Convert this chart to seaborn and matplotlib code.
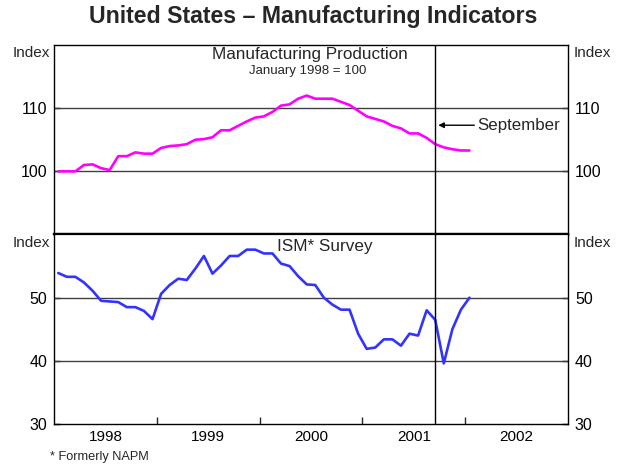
import matplotlib
matplotlib.use("Agg")
import matplotlib.pyplot as plt
import seaborn as sns
import numpy as np
import pandas as pd

# Monthly data, Jan 1998 .. Jan 2002
production = [100.0, 100.0, 100.0, 101.0, 101.1, 100.5, 100.2, 102.4, 102.4, 103.0,
              102.8, 102.8, 103.7, 104.0, 104.1, 104.3, 105.0, 105.1, 105.4, 106.5,
              106.5, 107.2, 107.9, 108.5, 108.7, 109.4, 110.4, 110.6, 111.5, 112.0,
              111.5, 111.5, 111.5, 111.0, 110.5, 109.6, 108.7, 108.3, 107.9, 107.2,
              106.8, 106.0, 106.0, 105.3, 104.3, 103.8, 103.5, 103.3, 103.3]
ism = [53.9, 53.3, 53.3, 52.4, 51.1, 49.5, 49.4, 49.3, 48.5, 48.5,
       47.9, 46.6, 50.6, 52.0, 53.0, 52.8, 54.6, 56.6, 53.8, 55.1,
       56.6, 56.6, 57.6, 57.6, 57.0, 57.0, 55.4, 55.0, 53.4, 52.1,
       52.0, 50.0, 48.9, 48.1, 48.1, 44.3, 41.9, 42.1, 43.4, 43.4,
       42.4, 44.3, 44.0, 48.0, 46.5, 39.6, 45.0, 48.1, 50.0]
start_year = 1998
years = [1998, 1999, 2000, 2001, 2002]
marker_month = 44  # September 2001 (months since Jan 1998)

months = np.arange(len(production))
xpos = start_year + (months + 0.5) / 12.0
df = pd.DataFrame({"x": xpos, "production": production, "ism": ism})

sns.set_theme(style="white")
plt.rcParams["font.family"] = ["Liberation Sans", "DejaVu Sans"]

W, H = 626, 469
fig, (ax1, ax2) = plt.subplots(2, 1, figsize=(W / 100, H / 100), dpi=100, sharex=True)
fig.subplots_adjust(left=54 / W, right=568 / W, top=1 - 45 / H, bottom=1 - 424 / H, hspace=0)
fig.patch.set_facecolor("white")

sns.lineplot(data=df, x="x", y="production", ax=ax1, color="#FF00FF", linewidth=1.9)
sns.lineplot(data=df, x="x", y="ism", ax=ax2, color="#3333FF", linewidth=1.9)

vx = start_year + (marker_month + 0.5) / 12.0
for ax in (ax1, ax2):
    ax.set_xlim(1998, 2003)
    ax.axvline(vx, color="black", linewidth=1.0, zorder=3)
    ax.set_xlabel("")
    ax.set_ylabel("")
    ax.set_facecolor("white")
    for s in ax.spines.values():
        s.set_color("black")
        s.set_linewidth(1.0)
        s.set_visible(True)

ax1.spines["bottom"].set_linewidth(1.6)
ax2.spines["top"].set_linewidth(1.6)

ax1.set_ylim(90, 120)
ax2.set_ylim(30, 60)

for ax, grid in ((ax1, [100, 110]), (ax2, [40, 50])):
    for g in grid:
        ax.axhline(g, color="#404040", linewidth=1.0, zorder=1)

# y ticks
ax1.set_yticks([100, 110])
ax2.set_yticks([30, 40, 50])
for ax in (ax1, ax2):
    ax.tick_params(axis="y", which="major", direction="in", length=4, width=1,
                   left=True, right=True, labelleft=True, labelright=True,
                   labelsize=11.5, pad=5, colors="black")

# x ticks
ax1.tick_params(axis="x", which="both", bottom=False, labelbottom=False)
ax2.set_xticks([1999, 2000, 2001, 2002])
ax2.set_xticks([y + 0.5 for y in years], minor=True)
ax2.set_xticklabels([str(y) for y in years], minor=True)
ax2.tick_params(axis="x", which="major", direction="in", length=5, width=1,
                bottom=True, labelbottom=False)
ax2.tick_params(axis="x", which="minor", length=0, labelsize=11, pad=4, colors="black")

# Index labels
for yy in (53, 243):
    fig.text(50 / W, 1 - yy / H, "Index", ha="right", va="center", fontsize=11)
    fig.text(574 / W, 1 - yy / H, "Index", ha="left", va="center", fontsize=11)

# Panel titles
fig.text(310 / W, 1 - 55 / H, "Manufacturing Production",
         ha="center", va="center", fontsize=12.3)
fig.text(308 / W, 1 - 71 / H, "January 1998 = 100",
         ha="center", va="center", fontsize=9.5)
fig.text(325 / W, 1 - 247 / H, "ISM* Survey",
         ha="center", va="center", fontsize=12.3)

# September annotation
ax1.annotate("", xy=(vx + 0.03, 107.3), xytext=(vx + 0.38, 107.3),
             arrowprops=dict(arrowstyle="-|>", color="black", lw=1.0,
                             mutation_scale=8, shrinkA=0, shrinkB=0))
ax1.text(vx + 0.41, 107.3, "September", ha="left", va="center", fontsize=12.2)

fig.suptitle("United States \u2013 Manufacturing Indicators", x=0.5, y=1 - 17 / H,
             ha="center", va="center", fontsize=16.7, fontweight="bold")
fig.text(50 / W, 1 - 457 / H, "* Formerly NAPM", ha="left", va="center", fontsize=9.2)

fig.savefig("out.png", dpi=100, facecolor="white")
